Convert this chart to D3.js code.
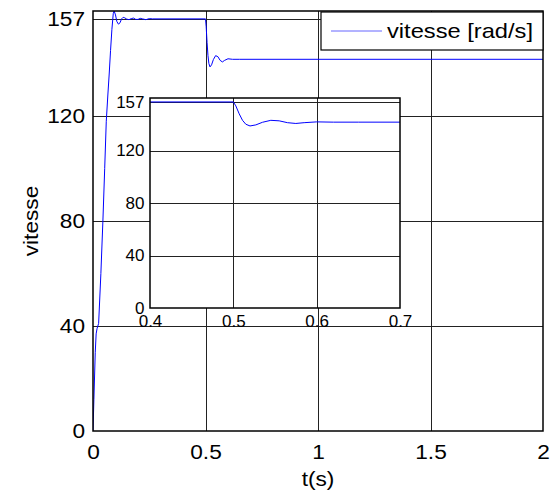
<!DOCTYPE html>
<html><head><meta charset="utf-8">
<script src="https://cdn.jsdelivr.net/npm/d3@7"></script>
<style>
body{margin:0;background:#fff}
text{font-family:"Liberation Sans",Arial,Helvetica,sans-serif;fill:#000}
</style>
</head><body>
<svg id="chart" width="558" height="495"></svg>
<script>
// ---- data ----
const timeS = [0, 0.004, 0.010, 0.014, 0.018, 0.025, 0.035, 0.044, 0.052, 0.059, 0.066, 0.072, 0.078, 0.084, 0.090, 0.094, 0.100, 0.106, 0.113, 0.120, 0.127, 0.134, 0.141, 0.150, 0.160, 0.170, 0.180, 0.190, 0.200, 0.210, 0.220, 0.235, 0.250, 0.265, 0.280, 0.500, 0.503, 0.507, 0.511, 0.515, 0.520, 0.527, 0.535, 0.545, 0.555, 0.565, 0.575, 0.585, 0.600, 0.620, 0.650, 2.000];
const vitesse = [0, 12, 30, 37, 39, 41, 60, 80, 100, 118, 128, 136, 145, 153, 159, 160, 158.5, 156, 155, 155.5, 157, 157.6, 157.4, 156.9, 156.7, 157.1, 157.3, 156.8, 156.8, 157.2, 157, 156.7, 157.1, 157, 157, 157, 154, 148, 143, 140, 138.7, 139.5, 141.5, 143, 142.6, 141.2, 140.6, 141.2, 141.8, 141.6, 141.6, 141.6];
const xTicksMain = [0, 0.5, 1, 1.5, 2];
const yTicksMain = [0, 40, 80, 120, 157];
const xTicksInset = [0.4, 0.5, 0.6, 0.7];
const yTicksInset = [0, 40, 80, 120, 157];
const seriesLabel = "vitesse [rad/s]";
const xLabel = "t(s)";
const yLabel = "vitesse";

const svg = d3.select("#chart");
const M = {l: 93, r: 543, t: 11, b: 431};
const x = d3.scaleLinear().domain([0, 2]).range([M.l, M.r]);
const y = d3.scaleLinear().domain([0, 160]).range([M.b, M.t]);
const fmt = d => String(d);
const gridCol = "#222";
const blue = "#0000ff";
const SX = 1.08; // horizontal stretch of the main texts

function grid(g, xs, ys, xTicks, yTicks) {
  const [x0, x1] = xs.range(), [y0, y1] = ys.range();
  g.append("g").attr("transform", `translate(0,${y0})`)
    .call(d3.axisBottom(xs).tickValues(xTicks.filter(v => v > xs.domain()[0] && v < xs.domain()[1])).tickSize(-(y0 - y1)).tickFormat(""))
    .call(a => a.select(".domain").remove())
    .selectAll("line").attr("stroke", gridCol).attr("stroke-width", 1).attr("shape-rendering", "crispEdges");
  g.append("g").attr("transform", `translate(${x0},0)`)
    .call(d3.axisLeft(ys).tickValues(yTicks.filter(v => v > ys.domain()[0] && v < ys.domain()[1])).tickSize(-(x1 - x0)).tickFormat(""))
    .call(a => a.select(".domain").remove())
    .selectAll("line").attr("stroke", gridCol).attr("stroke-width", 1).attr("shape-rendering", "crispEdges");
}

// main background
svg.append("rect").attr("x", M.l).attr("y", M.t).attr("width", M.r - M.l).attr("height", M.b - M.t).attr("fill", "#fff");
grid(svg.append("g"), x, y, xTicksMain, yTicksMain);

// clip & line
svg.append("clipPath").attr("id", "clipMain").append("rect")
  .attr("x", M.l).attr("y", M.t - 1).attr("width", M.r - M.l).attr("height", M.b - M.t + 1);
const data = timeS.map((t, i) => [t, vitesse[i]]);
svg.append("path").datum(data).attr("clip-path", "url(#clipMain)")
  .attr("fill", "none").attr("stroke", blue).attr("stroke-width", 1)
  .attr("d", d3.line().x(d => x(d[0])).y(d => y(d[1])));

// main axes box & labels
svg.append("rect").attr("x", M.l).attr("y", M.t).attr("width", M.r - M.l).attr("height", M.b - M.t)
  .attr("fill", "none").attr("stroke", "#000").attr("stroke-width", 1.5);

const ax = svg.append("g").attr("transform", `translate(0,${M.b})`)
  .call(d3.axisBottom(x).tickValues(xTicksMain).tickSize(0).tickPadding(13).tickFormat(fmt));
ax.select(".domain").remove();
ax.selectAll("text").attr("font-size", 21).attr("transform", `scale(${SX},1)`);
const ay = svg.append("g").attr("transform", `translate(${M.l},0)`)
  .call(d3.axisLeft(y).tickValues(yTicksMain).tickSize(0).tickPadding(7.4).tickFormat(fmt));
ay.select(".domain").remove();
ay.selectAll("text").attr("font-size", 21).attr("transform", `scale(${SX},1)`);

svg.append("text").attr("transform", `translate(${(M.l + M.r) / 2},486) scale(${SX},1)`)
  .attr("text-anchor", "middle").attr("font-size", 21).text(xLabel);
svg.append("text").attr("transform", `translate(38,${(M.t + M.b) / 2}) rotate(-90) scale(${SX},1)`)
  .attr("text-anchor", "middle").attr("font-size", 21).text(yLabel);

// ---- inset ----
const I = {l: 150, r: 400, t: 98, b: 308};
const xi = d3.scaleLinear().domain([0.4, 0.7]).range([I.l, I.r]);
const yi = d3.scaleLinear().domain([0, 160]).range([I.b, I.t]);
svg.append("rect").attr("x", I.l).attr("y", I.t).attr("width", I.r - I.l).attr("height", I.b - I.t).attr("fill", "#fff");
grid(svg.append("g"), xi, yi, xTicksInset, yTicksInset);
svg.append("clipPath").attr("id", "clipInset").append("rect")
  .attr("x", I.l).attr("y", I.t).attr("width", I.r - I.l).attr("height", I.b - I.t);
svg.append("path").datum(data).attr("clip-path", "url(#clipInset)")
  .attr("fill", "none").attr("stroke", blue).attr("stroke-width", 1)
  .attr("d", d3.line().x(d => xi(d[0])).y(d => yi(d[1])));
svg.append("rect").attr("x", I.l).attr("y", I.t).attr("width", I.r - I.l).attr("height", I.b - I.t)
  .attr("fill", "none").attr("stroke", "#000").attr("stroke-width", 1.5);
const aix = svg.append("g").attr("transform", `translate(0,${I.b})`)
  .call(d3.axisBottom(xi).tickValues(xTicksInset).tickSize(0).tickPadding(7).tickFormat(fmt));
aix.select(".domain").remove();
aix.selectAll("text").attr("font-size", 17);
const aiy = svg.append("g").attr("transform", `translate(${I.l},0)`)
  .call(d3.axisLeft(yi).tickValues(yTicksInset).tickSize(0).tickPadding(5.5).tickFormat(fmt));
aiy.select(".domain").remove();
aiy.selectAll("text").attr("font-size", 17);

// ---- legend ----
const lg = svg.append("g");
lg.append("rect").attr("x", 321).attr("y", 12).attr("width", 222).attr("height", 38)
  .attr("fill", "#fff").attr("stroke", "#000").attr("stroke-width", 1.2);
lg.append("line").attr("x1", 331).attr("x2", 382).attr("y1", 31).attr("y2", 31)
  .attr("stroke", blue).attr("stroke-width", 1).attr("stroke-opacity", 0.6);
lg.append("text").attr("x", 387).attr("y", 38).attr("font-size", 21)
  .attr("textLength", 146).attr("lengthAdjust", "spacingAndGlyphs").text(seriesLabel);
</script>
</body></html>
